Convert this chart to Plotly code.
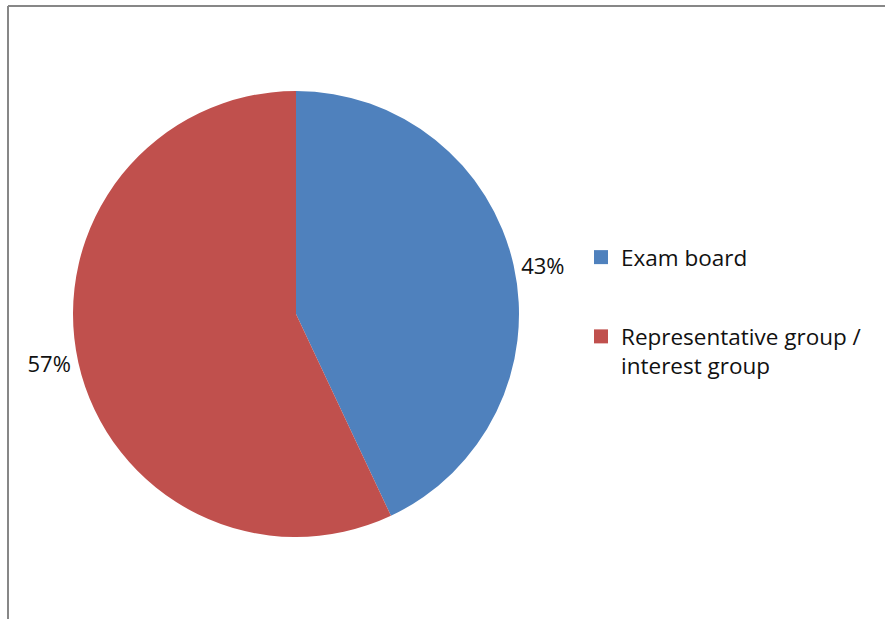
import plotly.graph_objects as go

# data
labels = ["Exam board", "Representative group /<br>interest group"]
values = [43, 57]
colors = ["#4F81BD", "#C0504D"]

W, H = 885, 619
font = "Open Sans"

fig = go.Figure()

fig.add_trace(go.Pie(
    labels=labels,
    values=values,
    marker=dict(colors=colors, line=dict(width=0)),
    sort=False,
    direction="clockwise",
    rotation=0,
    textposition="outside",
    texttemplate="%{percent:.0%}",
    textfont=dict(size=22, color="#111111", family=font),
    showlegend=False,
    domain=dict(x=[73 / W, 519 / W], y=[(H - 537) / H, (H - 91) / H]),
))

# legend entries (separate traces so the gap between them can be set)
for i, (lab, col) in enumerate(zip(labels, colors)):
    fig.add_trace(go.Scatter(
        x=[None], y=[None], mode="markers", name=lab,
        legendgroup=str(i),
        marker=dict(symbol="square", size=14, color=col),
    ))

# chart border (left and top edges visible in the crop)
fig.add_shape(type="line", xref="paper", yref="paper",
              x0=8 / W, x1=8 / W, y0=0, y1=1 - 6 / H,
              line=dict(color="#878787", width=2))
fig.add_shape(type="line", xref="paper", yref="paper",
              x0=8 / W, x1=1, y0=1 - 6 / H, y1=1 - 6 / H,
              line=dict(color="#878787", width=2))

fig.update_layout(
    width=W, height=H,
    margin=dict(l=0, r=0, t=0, b=0),
    paper_bgcolor="white",
    plot_bgcolor="white",
    xaxis=dict(visible=False),
    yaxis=dict(visible=False),
    font=dict(family=font, color="#111111"),
    legend=dict(
        x=581 / W, xanchor="left",
        y=1 - 236 / H, yanchor="top",
        traceorder="grouped", tracegroupgap=47,
        valign="top",
        font=dict(size=22.5, family=font, color="#111111"),
        bgcolor="rgba(0,0,0,0)",
    ),
)

fig.write_html("out.html", config={"displayModeBar": False},
               post_script="document.body.style.margin='0';")
